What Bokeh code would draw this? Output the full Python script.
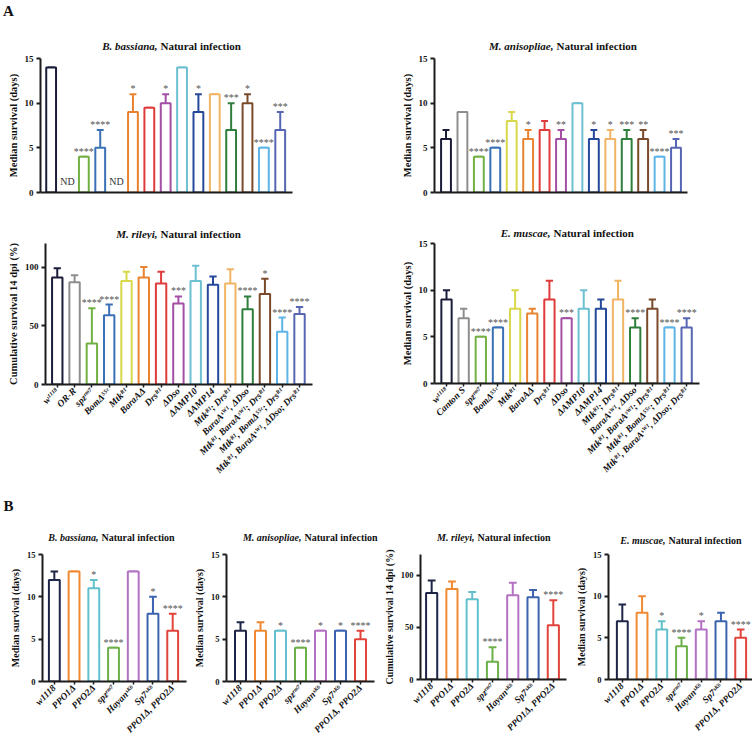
import math
from bokeh.plotting import figure
from bokeh.models import FixedTicker, Range1d, ColumnDataSource
from bokeh.layouts import row, column
from bokeh.core.properties import value
from bokeh.embed import file_html
from bokeh.resources import INLINE

SERIF = "Liberation Serif"
AXIS_COLOR = "#1c1c1c"
STAR_COLOR = "#555555"
TEXT_COLOR = "#111111"

# ---------------- Panel A strains ----------------
A_LABELS_ORR = ["w¹¹¹⁸", "OR-R", "spzʳᵐ⁷", "BomΔ⁵⁵ᶜ", "Mtkᴿ¹", "BaraAΔ", "Drsᴿ¹",
                "ΔDso", "ΔAMP10", "ΔAMP14", "Mtkᴿ¹; Drsᴿ¹", "BaraAˢᵂ¹, ΔDso",
                "Mtkᴿ¹, BaraAˢᵂ¹; Drsᴿ¹", "Mtkᴿ¹, BomΔ⁵⁵ᶜ; Drsᴿ¹",
                "Mtkᴿ¹, BaraAˢᵂ¹, ΔDso; Drsᴿ¹"]
A_LABELS_CS = ["w¹¹¹⁸", "Canton S", "spzʳᵐ⁷", "BomΔ⁵⁵ᶜ", "Mtkᴿ¹", "BaraAΔ", "Drsᴿ¹",
               "ΔDso", "ΔAMP10", "ΔAMP14", "Mtkᴿ¹; Drsᴿ¹", "BaraAˢᵂ¹, ΔDso",
               "Mtkᴿ¹, BaraAˢᵂ¹; Drsᴿ¹", "Mtkᴿ¹, BomΔ⁵⁵ᶜ; Drsᴿ¹",
               "Mtkᴿ¹, BaraAˢᵂ¹, ΔDso; Drsᴿ¹"]
A_COLORS = ["#1b1b3a", "#8e8e8e", "#72b043", "#3a70b5", "#d8d84a", "#e9832f", "#e03b3b",
            "#a24fa4", "#6cc0d0", "#24489a", "#f1b464", "#2f7f3c", "#7b4a2b", "#5db4e6",
            "#5666b2"]

# B. bassiana (median survival, days)
BB_A_MED = [14, None, 4, 5, None, 9, 9.5, 10, 14, 9, 11, 7, 10, 5, 7]
BB_A_UP = [14, None, 4, 7, None, 11, 9.5, 11, 14, 11, 11, 10, 11, 5, 9]
BB_A_SIG = ["", "", "****", "****", "", "*", "", "*", "", "*", "", "***", "*", "****", "***"]

# M. anisopliae (median survival, days)
MA_A_MED = [6, 9, 4, 5, 8, 6, 7, 6, 10, 6, 6, 6, 6, 4, 5]
MA_A_UP = [7, 9, 4, 5, 9, 7, 8, 7, 10, 7, 7, 7, 7, 4, 6]
MA_A_SIG = ["", "", "****", "****", "", "*", "", "**", "", "*", "*", "***", "**", "****", "***"]

# M. rileyi (cumulative survival 14 dpi, %)
MR_A_MED = [91, 87, 35, 59, 88, 91, 86, 69, 88, 85, 86, 64, 77, 45, 60]
MR_A_UP = [99, 93, 65, 68, 96, 100, 96, 75, 101, 92, 98, 75, 90, 57, 66]
MR_A_SIG = ["", "", "****", "****", "", "", "", "***", "", "", "", "****", "*", "****", "****"]

# E. muscae (median survival, days)
EM_A_MED = [9, 7, 5, 6, 8, 7.5, 9, 7, 8, 8, 9, 6, 8, 6, 6]
EM_A_UP = [10, 8, 5, 6, 10, 8, 11, 7, 10, 9, 11, 7, 9, 6, 7]
EM_A_SIG = ["", "", "****", "****", "", "", "", "***", "", "", "", "****", "", "****", "****"]

# ---------------- Panel B strains ----------------
B_LABELS = ["w1118", "PPO1Δ", "PPO2Δ", "spzʳᵐ⁷", "Hayanˢᴷ⁶", "Sp7ˢᴷ⁶", "PPO1Δ, PPO2Δ"]
B_COLORS = ["#1f2547", "#f08a32", "#62c0cc", "#6cb04a", "#b271c2", "#3b63b0", "#e2433b"]

BB_B_MED = [12, 13, 11, 4, 13, 8, 6]
BB_B_UP = [13, 13, 12, 4, 13, 10, 8]
BB_B_SIG = ["", "", "*", "****", "", "*", "****"]

MA_B_MED = [6, 6, 6, 4, 6, 6, 5]
MA_B_UP = [7, 7, 6, 4, 6, 6, 6]
MA_B_SIG = ["", "", "*", "****", "*", "*", "****"]

MR_B_MED = [83, 87, 77, 17, 81, 79, 52]
MR_B_UP = [95, 94, 84, 31, 93, 86, 76]
MR_B_SIG = ["", "", "", "****", "", "", "****"]

EM_B_MED = [7, 8, 6, 4, 6, 7, 5]
EM_B_UP = [9, 10, 7, 5, 7, 8, 6]
EM_B_SIG = ["", "", "*", "****", "*", "", "****"]

Y_DAYS = "Median survival (days)"
Y_PCT = "Cumulative survival 14 dpi (%)"
DAYS_TICKS = [0, 5, 10, 15]
PCT_TICKS = [0, 50, 100]

# panel titles: (species part, rest)
TITLES_A_TOP = [("B. bassiana,", "Natural infection"), ("M. anisopliae,", "Natural infection")]
TITLES_A_BOT = [("M. rileyi,", "Natural infection"), ("E. muscae,", "Natural infection")]
TITLES_B = [("B. bassiana,", "Natural infection"), ("M. anisopliae,", "Natural infection"),
            ("M. rileyi,", "Natural infection"), ("E. muscae,", "Natural infection")]


def strip(height, titles, splits, ys, size, letter=None, width=752):
    """A text-only strip holding panel titles and the panel letter."""
    p = figure(width=width, height=height, x_range=Range1d(0, width),
               y_range=Range1d(height, 0), min_border=0,
               x_axis_location=None, y_axis_location=None,
               output_backend="svg", toolbar_location=None, tools="")
    p.xgrid.visible = False
    p.ygrid.visible = False
    p.outline_line_color = None
    p.background_fill_color = "white"
    p.border_fill_color = "white"
    p.text(x=splits, y=ys, text=[t[0] for t in titles], text_align="right",
           text_baseline="middle", text_font=value(SERIF),
           text_font_style="bold italic", text_font_size=size, text_color=TEXT_COLOR)
    p.text(x=splits, y=ys, text=[t[1] for t in titles], text_align="left",
           text_baseline="middle", x_offset=3, text_font=value(SERIF),
           text_font_style="bold", text_font_size=size, text_color=TEXT_COLOR)
    if letter:
        lx, ly, lt = letter
        p.text(x=[lx], y=[ly], text=[lt], text_align="center", text_baseline="middle",
               text_font=value(SERIF), text_font_style="bold", text_font_size="15px",
               text_color=TEXT_COLOR)
    return p


def panel(labels, colors, med, up, sig, ylabel, yticks, yr, geo,
          show_x, bar_w, x_font, tick_font="9px", ylab_font="10.5px"):
    fw, fh, mbl, mbr, mbt, mbb, x0, x1 = geo
    p = figure(frame_width=fw, frame_height=fh, min_border_left=mbl,
               min_border_right=mbr, min_border_top=mbt, min_border_bottom=mbb,
               x_range=Range1d(x0, x1), y_range=Range1d(*yr),
               output_backend="svg", toolbar_location=None, tools="")
    p.xgrid.visible = False
    p.ygrid.visible = False
    p.outline_line_color = None
    p.background_fill_color = "white"
    p.border_fill_color = "white"

    idx = [i for i, v in enumerate(med) if v is not None]
    half = bar_w * 0.35
    src = ColumnDataSource(dict(
        x=idx,
        top=[med[i] for i in idx],
        up=[up[i] for i in idx],
        color=[colors[i] for i in idx],
        sig=[sig[i] for i in idx],
        cl=[i - half for i in idx],
        cr=[i + half for i in idx],
    ))
    p.segment(x0="x", y0="top", x1="x", y1="up", line_color="color",
              line_width=2, source=src)
    p.segment(x0="cl", y0="up", x1="cr", y1="up", line_color="color",
              line_width=2, source=src)
    p.vbar(x="x", top="top", bottom=0, width=bar_w, fill_color="white",
           line_color="color", line_width=2, source=src)
    p.text(x="x", y="up", text="sig", text_align="center", text_baseline="bottom",
           text_font=value(SERIF), text_font_size="10px", text_color=STAR_COLOR,
           source=src)

    nd_idx = [i for i, v in enumerate(med) if v is None]
    if nd_idx:
        p.text(x=nd_idx, y=[yr[0]] * len(nd_idx), text=["ND"] * len(nd_idx),
               text_align="center", text_baseline="bottom", y_offset=-6,
               text_font=value(SERIF), text_font_size="10px", text_color="#333333")

    ya = p.yaxis[0]
    ya.ticker = FixedTicker(ticks=yticks, minor_ticks=[])
    ya.axis_line_width = 2
    ya.axis_line_color = AXIS_COLOR
    ya.major_tick_line_color = AXIS_COLOR
    ya.major_tick_line_width = 2
    ya.major_tick_out = 4
    ya.major_tick_in = 0
    ya.minor_tick_out = 0
    ya.minor_tick_in = 0
    ya.major_label_text_font = SERIF
    ya.major_label_text_font_style = "bold"
    ya.major_label_text_font_size = tick_font
    ya.major_label_text_color = TEXT_COLOR
    ya.major_label_standoff = 3
    ya.axis_label = ylabel
    ya.axis_label_text_font = SERIF
    ya.axis_label_text_font_style = "bold"
    ya.axis_label_text_font_size = ylab_font
    ya.axis_label_text_color = TEXT_COLOR
    ya.axis_label_standoff = 3

    xa = p.xaxis[0]
    xa.axis_line_width = 2
    xa.axis_line_color = AXIS_COLOR
    xa.minor_tick_out = 0
    xa.minor_tick_in = 0
    if show_x:
        xa.ticker = FixedTicker(ticks=list(range(len(labels))), minor_ticks=[])
        xa.major_label_overrides = {i: lab for i, lab in enumerate(labels)}
        xa.major_label_orientation = math.pi / 4
        xa.major_tick_out = 3
        xa.major_tick_in = 0
        xa.major_tick_line_width = 1.5
        xa.major_tick_line_color = AXIS_COLOR
        xa.major_label_text_font = SERIF
        xa.major_label_text_font_style = "bold italic"
        xa.major_label_text_font_size = x_font
        xa.major_label_text_color = TEXT_COLOR
        xa.major_label_standoff = 2
    else:
        xa.ticker = FixedTicker(ticks=[], minor_ticks=[])
        xa.major_tick_line_color = None
        xa.major_label_text_font_size = "0px"
    return p


# strip 1 : y 0..52
s1 = strip(52, TITLES_A_TOP, [157, 553], [45, 45], "11px", letter=(8, 10, "A"))
# row 1 : y 52..200   geometry: frame_w, frame_h, mbl, mbr, mbt, mbb, x0, x1
tl = panel(A_LABELS_ORR, A_COLORS, BB_A_MED, BB_A_UP, BB_A_SIG, Y_DAYS, DAYS_TICKS, (0, 15),
           (252, 134, 40, 78, 6, 8, -0.65, 14.75), False, 0.6, "9.5px")
tr = panel(A_LABELS_CS, A_COLORS, MA_A_MED, MA_A_UP, MA_A_SIG, Y_DAYS, DAYS_TICKS, (0, 15),
           (253, 134, 64, 64, 6, 8, -0.7, 14.7), False, 0.6, "9.5px")
# strip 2 : y 200..239
s2 = strip(39, TITLES_A_BOT, [157, 550], [33, 32], "11px")
# row 2 : y 239..498
bl = panel(A_LABELS_ORR, A_COLORS, MR_A_MED, MR_A_UP, MR_A_SIG, Y_PCT, PCT_TICKS, (0, 120),
           (267, 141, 45, 58, 3, 115, -0.68, 14.75), True, 0.6, "9.5px")
br = panel(A_LABELS_CS, A_COLORS, EM_A_MED, EM_A_UP, EM_A_SIG, Y_DAYS, DAYS_TICKS, (0, 15),
           (265, 140, 64, 52, 4, 115, -0.7, 14.75), True, 0.6, "9.5px")
# strip 3 : y 498..547
s3 = strip(49, TITLES_B, [98, 301, 474, 665], [39, 39, 39, 42], "10px", letter=(8, 7, "B"))
# row 3 : y 547..735
b1 = panel(B_LABELS, B_COLORS, BB_B_MED, BB_B_UP, BB_B_SIG, Y_DAYS, DAYS_TICKS, (0, 15),
           (144, 127, 42, 4, 6, 55, -0.6, 6.7), True, 0.55, "9.5px",
           tick_font="8.5px", ylab_font="10px")
b2 = panel(B_LABELS, B_COLORS, MA_B_MED, MA_B_UP, MA_B_SIG, Y_DAYS, DAYS_TICKS, (0, 15),
           (148, 127, 36, 6, 6, 55, -0.7, 6.7), True, 0.55, "9.5px",
           tick_font="8.5px", ylab_font="10px")
b3 = panel(B_LABELS, B_COLORS, MR_B_MED, MR_B_UP, MR_B_SIG, Y_PCT, PCT_TICKS, (0, 120),
           (146, 125, 38, 6, 7, 56, -0.55, 6.65), True, 0.55, "9.5px",
           tick_font="8.5px", ylab_font="10px")
b4 = panel(B_LABELS, B_COLORS, EM_B_MED, EM_B_UP, EM_B_SIG, Y_DAYS, DAYS_TICKS, (0, 15),
           (146, 125, 34, 1, 7, 56, -0.7, 6.7), True, 0.55, "9.5px",
           tick_font="8.5px", ylab_font="10px")

layout = column(s1, row(tl, tr), s2, row(bl, br), s3, row(b1, b2, b3, b4))

open("out.html", "w").write(file_html(layout, INLINE))
